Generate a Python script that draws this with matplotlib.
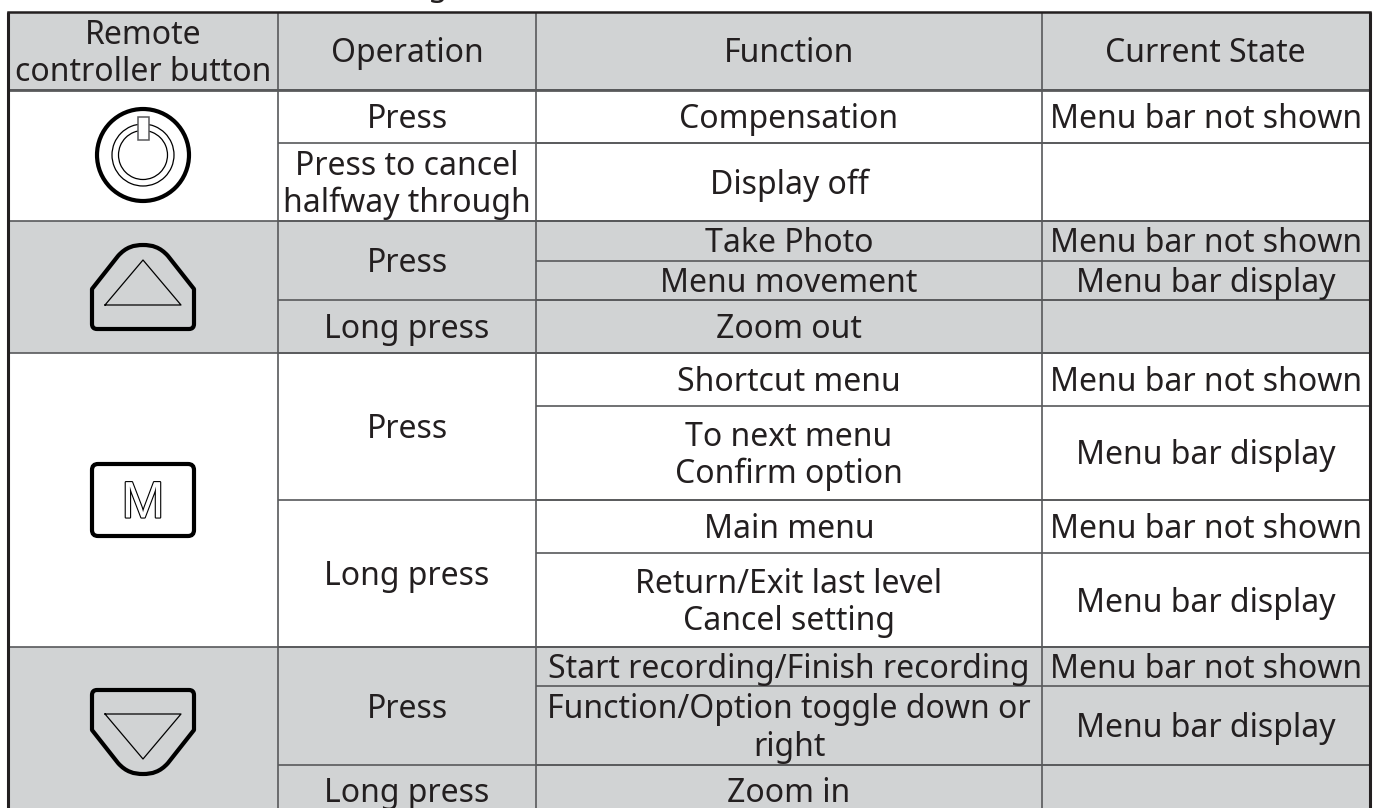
import matplotlib
matplotlib.use('Agg')
import matplotlib.pyplot as plt
import matplotlib.patheffects as pe
from matplotlib.patches import Rectangle, Circle, PathPatch, Arc, FancyBboxPatch
from matplotlib.path import Path

W, H = 1379, 808
GRAY = '#d1d3d4'
INK = '#231f20'
LINE = '#58595b'
plt.rcParams['font.family'] = ['Noto Sans', 'DejaVu Sans']

# table contents
headers = ['Remote\ncontroller button', 'Operation', 'Function', 'Current State']
operations = ['Press', 'Press to cancel\nhalfway through', 'Press', 'Long press',
              'Press', 'Long press', 'Press', 'Long press']
functions = ['Compensation', 'Display off', 'Take Photo', 'Menu movement', 'Zoom out',
             'Shortcut menu', 'To next menu\nConfirm option', 'Main menu',
             'Return/Exit last level\nCancel setting', 'Start recording/Finish recording',
             'Function/Option toggle down or\nright', 'Zoom in']
states = ['Menu bar not shown', '', 'Menu bar not shown', 'Menu bar display', '',
          'Menu bar not shown', 'Menu bar display', 'Menu bar not shown', 'Menu bar display',
          'Menu bar not shown', 'Menu bar display', '']

# grid layout in pixels, the last row runs past the bottom of the page
xs = [7.5, 278, 536, 1042, 1369.5]
ys = [12, 90, 143, 221, 260.5, 300, 353, 406, 500, 553, 647, 686, 765, 816]
op_rows = [(1, 2), (2, 3), (3, 5), (5, 6), (6, 8), (8, 10), (10, 12), (12, 13)]
groups = [(1, 3, 'white'), (3, 6, GRAY), (6, 10, 'white'), (10, 13, GRAY)]

fig = plt.figure(figsize=(W / 100, H / 100), dpi=100)
ax = fig.add_axes([0, 0, 1, 1])
ax.set_xlim(0, W)
ax.set_ylim(H, 0)
ax.axis('off')

FS = 23
DY = 3


def label(x, y, s):
    ax.text(x, y + DY, s, ha='center', va='center', fontsize=FS, color=INK, linespacing=1.17)


def hline(y, x0, x1, lw=1.2):
    ax.plot([x0, x1], [y, y], color=LINE, lw=lw, solid_capstyle='butt')


def vline(x, y0, y1, lw=1.2):
    ax.plot([x, x], [y0, y1], color=LINE, lw=lw, solid_capstyle='butt')


# cell fills
ax.add_patch(Rectangle((xs[0], ys[0]), xs[-1] - xs[0], ys[1] - ys[0], fc=GRAY, ec='none'))
for a, b, col in groups:
    ax.add_patch(Rectangle((xs[0], ys[a]), xs[-1] - xs[0], ys[b] - ys[a], fc=col, ec='none'))

# rules
for a, b, _ in groups:
    hline(ys[a], xs[0], xs[-1])
for a, b in op_rows:
    hline(ys[a], xs[1], xs[-1])
for i in range(1, len(ys) - 1):
    hline(ys[i], xs[2], xs[-1])
hline(ys[1], xs[0], xs[-1], lw=2)
for x in xs[1:4]:
    vline(x, ys[0], H)
ax.plot([xs[0], xs[0]], [ys[0], H], color=INK, lw=2.2, solid_capstyle='butt')
ax.plot([xs[-1], xs[-1]], [ys[0], H], color=INK, lw=2.2, solid_capstyle='butt')
ax.plot([xs[0], xs[-1]], [ys[0], ys[0]], color=INK, lw=1.8, solid_capstyle='projecting')

# text
for i, h in enumerate(headers):
    label((xs[i] + xs[i + 1]) / 2, (ys[0] + ys[1]) / 2, h)
for (a, b), s in zip(op_rows, operations):
    label((xs[1] + xs[2]) / 2, (ys[a] + ys[b]) / 2, s)
for i, s in enumerate(functions):
    label((xs[2] + xs[3]) / 2, (ys[i + 1] + ys[i + 2]) / 2, s)
for i, s in enumerate(states):
    if s:
        label((xs[3] + xs[4]) / 2, (ys[i + 1] + ys[i + 2]) / 2, s)

# descender of the line above the table, cut off by the page edge
ax.text(437, -5, 'g', ha='center', va='baseline', fontsize=FS, color=INK, clip_on=False)

# power button
cx, cy = 143, 155
ax.add_patch(Circle((cx, cy), 46, fc='none', ec='black', lw=3))
for r in (31, 24.5):
    ax.add_patch(Arc((cx, cy), 2 * r, 2 * r, theta1=0, theta2=360, ec='black', lw=0.9))
ax.add_patch(Rectangle((cx - 5, 117), 10.5, 23, fc='white', ec=LINE, lw=1.1, zorder=3))


def button(cx, flat, s):
    # up and down keys, d is the distance from the flat side
    def p(dx, d):
        return (cx + dx, flat - s * d)
    verts = [p(-46, 0), p(-51, 0), p(-51, 5), p(-51, 40), p(-25, 73),
             p(-17, 82), p(-9, 84), p(0, 84), p(9, 84), p(17, 82), p(25, 73),
             p(51, 40), p(51, 5), p(51, 0), p(46, 0), p(-46, 0)]
    codes = [Path.MOVETO, Path.CURVE3, Path.CURVE3, Path.LINETO, Path.LINETO,
             Path.CURVE4, Path.CURVE4, Path.CURVE4, Path.CURVE4, Path.CURVE4, Path.CURVE4,
             Path.LINETO, Path.LINETO, Path.CURVE3, Path.CURVE3, Path.CLOSEPOLY]
    ax.add_patch(PathPatch(Path(verts, codes), fc='none', ec='black', lw=3, joinstyle='round'))


button(143, 329, 1)
ax.plot([105, 143, 181, 105], [305, 260, 305, 305], color='black', lw=0.9)
button(143, 690, -1)
ax.plot([105, 143, 181, 105], [714, 759, 714, 714], color='black', lw=0.9)

# menu button
ax.add_patch(FancyBboxPatch((92, 464), 102, 72, boxstyle='round,pad=0,rounding_size=6',
                            fc='none', ec='black', lw=3))
ax.text(143, 504, 'M', ha='center', va='center', fontsize=37, color='white',
        family='Liberation Sans',
        path_effects=[pe.Stroke(linewidth=1.6, foreground='black'), pe.Normal()])

fig.savefig('out.png', dpi=100)
